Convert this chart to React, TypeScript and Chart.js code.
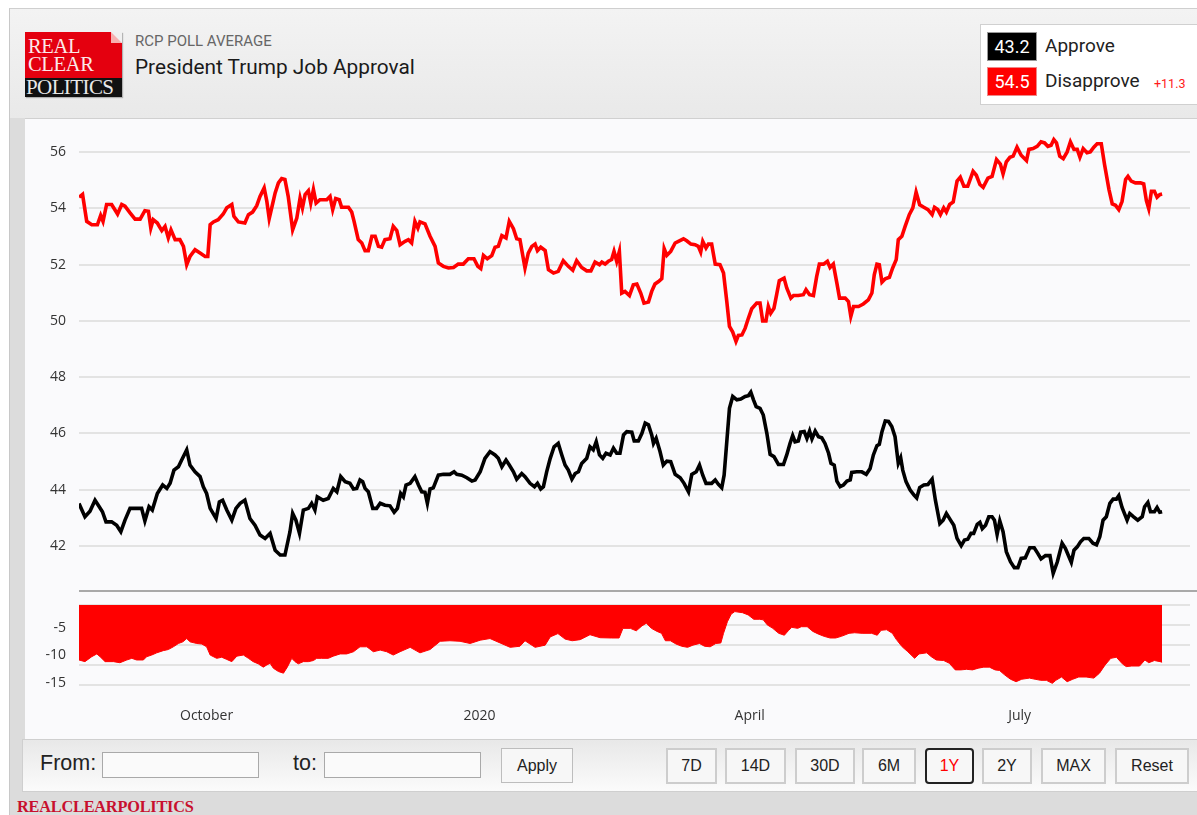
import React, { useEffect, useRef } from 'react';
import { Chart, registerables } from 'chart.js';

Chart.register(...registerables);

// Day offsets are counted from Aug 19, 2019 (day 0) to Aug 18, 2020 (day 365)
const approveDays = [
  0, 2.0, 3.7, 5.4, 6.5, 7.9, 9.1, 11.0, 12.7, 14.1,
  15.5, 17.2, 19.4, 21.1, 22.2, 23.6, 24.7, 26.4, 28.2, 29.6,
  30.7, 32.0, 33.5, 34.6, 36.3, 37.4, 39.1, 40.8, 41.9, 43.0,
  44.2, 46.2, 47.3, 48.4, 49.8, 51.5, 52.9, 54.3, 55.9, 57.6,
  59.3, 61.0, 62.7, 64.4, 66.1, 67.8, 69.4, 71.1, 72.0, 73.1,
  74.3, 75.6, 77.3, 78.4, 79.5, 80.3, 82.3, 84.0, 85.7, 86.9,
  88.2, 89.7, 91.3, 92.5, 93.6, 94.7, 95.6, 96.4, 97.5, 99.0,
  100.3, 101.5, 103.1, 104.8, 106.2, 107.3, 108.4, 109.3, 110.2, 111.6,
  113.2, 114.4, 115.5, 116.6, 117.4, 118.3, 119.4, 121.1, 122.8, 125.0,
  126.4, 127.3, 129.0, 130.7, 132.4, 133.5, 135.2, 136.8, 138.5, 140.2,
  141.3, 142.5, 143.9, 145.0, 146.4, 147.5, 149.2, 150.3, 152.0, 153.5,
  154.5, 155.6, 156.5, 157.6, 158.8, 160.1, 161.5, 162.7, 163.8, 164.9,
  166.1, 167.2, 168.3, 169.4, 171.1, 172.2, 173.3, 174.3, 175.4, 176.5,
  177.6, 179.0, 180.1, 181.2, 182.3, 183.5, 184.6, 186.3, 187.1, 188.5,
  189.7, 190.8, 191.9, 193.0, 193.6, 194.5, 195.8, 196.9, 198.1, 199.4,
  200.9, 202.6, 203.9, 205.4, 206.5, 208.0, 209.1, 210.2, 211.3, 213.2,
  214.4, 215.5, 216.6, 217.4, 218.3, 219.2, 220.3, 221.7, 223.0, 224.5,
  225.6, 226.4, 227.3, 228.2, 229.5, 230.6, 231.8, 232.9, 234.2, 235.7,
  237.4, 238.5, 239.6, 240.5, 241.3, 242.4, 243.2, 244.4, 245.3, 246.2,
  247.0, 248.1, 249.2, 250.3, 251.4, 252.6, 253.4, 254.5, 255.4, 256.5,
  257.6, 258.8, 259.9, 260.4, 262.1, 263.8, 265.3, 266.6, 267.7, 268.9,
  269.7, 270.6, 271.7, 272.8, 273.9, 275.0, 276.1, 276.9, 277.6, 278.7,
  280.1, 281.4, 282.3, 283.3, 284.7, 286.1, 287.5, 288.6, 290.1, 291.2,
  292.3, 293.7, 294.8, 295.9, 297.3, 298.4, 299.5, 300.6, 301.5, 302.7,
  303.6, 304.4, 305.5, 306.6, 307.7, 308.5, 309.4, 310.3, 311.4, 312.5,
  313.9, 315.2, 316.4, 317.5, 318.9, 320.4, 321.9, 323.1, 324.2, 325.7,
  327.2, 328.3, 329.7, 331.3, 332.4, 333.6, 334.4, 335.3, 336.4, 337.5,
  338.6, 340.3, 341.7, 342.9, 344.0, 345.1, 346.2, 347.4, 348.5, 349.6,
  350.4, 351.5, 353.2, 354.1, 355.4, 356.8, 358.3, 359.1, 360.2, 361.1,
  362.4, 363.3, 364.2, 365.0,
];
const approveValues = [
  43.5, 43.03, 43.23, 43.62, 43.44, 43.21, 42.85, 42.85, 42.73, 42.5,
  42.91, 43.33, 43.33, 43.33, 42.88, 43.39, 43.27, 43.86, 44.16, 44.04,
  44.22, 44.69, 44.81, 45.05, 45.41, 44.87, 44.63, 44.46, 44.1, 43.86,
  43.33, 42.97, 43.56, 43.62, 43.27, 42.91, 43.33, 43.51, 43.62, 42.97,
  42.73, 42.38, 42.26, 42.44, 41.84, 41.67, 41.67, 42.5, 43.15, 42.91,
  42.44, 43.27, 43.33, 43.51, 43.27, 43.74, 43.62, 43.68, 44.04, 43.92,
  44.46, 44.28, 44.22, 44.02, 44.04, 44.34, 44.28, 44.04, 43.92, 43.33,
  43.33, 43.51, 43.44, 43.42, 43.19, 43.33, 43.86, 43.74, 44.16, 44.22,
  44.46, 44.16, 43.92, 43.9, 43.51, 44.02, 44.06, 44.51, 44.54, 44.54,
  44.63, 44.54, 44.51, 44.42, 44.3, 44.34, 44.63, 45.11, 45.35, 45.23,
  45.11, 44.81, 45.05, 44.87, 44.63, 44.37, 44.57, 44.46, 44.22, 44.1,
  44.22, 44.02, 44.1, 44.63, 45.11, 45.52, 45.64, 45.23, 44.87, 44.69,
  44.37, 44.57, 44.63, 44.93, 45.11, 45.52, 45.41, 45.7, 45.23, 45.11,
  45.29, 45.23, 45.47, 45.29, 45.29, 45.94, 46.06, 46.04, 45.73, 45.73,
  46.0, 46.36, 46.3, 45.94, 45.64, 45.82, 45.35, 44.87, 45.01, 44.99,
  44.54, 44.42, 44.22, 43.92, 44.54, 44.63, 44.87, 44.51, 44.22, 44.22,
  44.34, 44.18, 44.06, 44.51, 45.7, 46.89, 47.31, 47.19, 47.22, 47.31,
  47.34, 47.46, 47.19, 46.95, 46.89, 46.65, 46.0, 45.25, 45.17, 44.89,
  44.89, 45.23, 45.64, 45.92, 45.7, 45.73, 46.04, 46.06, 45.82, 46.08,
  45.8, 46.08, 45.88, 45.84, 45.64, 45.29, 44.93, 44.87, 44.3, 44.1,
  44.16, 44.3, 44.34, 44.61, 44.63, 44.63, 44.54, 44.75, 45.23, 45.56,
  45.61, 46.06, 46.44, 46.42, 46.24, 45.88, 44.93, 45.13, 44.69, 44.28,
  43.98, 43.8, 43.7, 44.07, 44.16, 44.18, 44.37, 43.62, 42.79, 42.91,
  43.15, 42.91, 42.73, 42.26, 42.0, 42.2, 42.23, 42.44, 42.44, 42.76,
  42.83, 42.61, 42.73, 43.03, 43.03, 42.91, 42.4, 42.88, 42.5, 41.79,
  41.43, 41.22, 41.22, 41.55, 41.57, 41.93, 41.93, 41.73, 41.53, 41.65,
  41.65, 41.02, 41.43, 42.09, 41.91, 41.61, 41.41, 41.84, 41.96, 42.14,
  42.26, 42.26, 42.09, 42.03, 42.32, 42.91, 43.03, 43.51, 43.66, 43.66,
  43.78, 43.36, 42.91, 43.15, 43.03, 42.91, 43.03, 43.39, 43.54, 43.21,
  43.21, 43.36, 43.19, 43.21,
];

const disapproveDays = [
  0, 1.2, 2.6, 4.3, 6.2, 7.3, 8.1, 9.3, 11.0, 13.0,
  14.4, 15.5, 17.2, 18.9, 20.6, 22.2, 23.4, 24.2, 25.0, 26.4,
  27.9, 29.0, 30.1, 31.0, 32.4, 34.0, 35.2, 36.3, 37.4, 39.1,
  40.8, 42.5, 43.4, 44.2, 45.3, 46.9, 48.6, 49.8, 51.5, 52.2,
  53.7, 55.9, 57.1, 58.5, 59.9, 61.0, 62.4, 63.3, 64.1, 65.2,
  66.1, 67.2, 68.3, 69.4, 70.5, 72.0, 73.4, 74.5, 75.3, 76.2,
  77.3, 78.1, 79.0, 79.9, 81.2, 83.5, 84.6, 85.5, 86.5, 87.7,
  88.5, 90.8, 91.9, 92.7, 94.1, 95.3, 96.4, 97.5, 98.7, 99.8,
  100.9, 102.0, 103.1, 104.8, 105.9, 107.1, 108.2, 109.9, 111.0, 112.1,
  113.2, 114.2, 114.9, 116.6, 118.3, 120.0, 121.1, 122.8, 124.5, 126.2,
  127.8, 129.5, 131.2, 133.1, 134.4, 135.4, 136.3, 137.6, 139.1, 140.2,
  141.3, 142.5, 143.9, 145.0, 146.4, 147.5, 148.6, 150.3, 151.4, 152.6,
  153.7, 154.5, 155.6, 157.1, 158.2, 159.9, 161.5, 163.2, 164.9, 166.4,
  167.7, 169.4, 171.1, 172.5, 173.9, 175.4, 176.2, 177.3, 178.4, 179.5,
  180.3, 181.2, 182.1, 182.9, 184.0, 185.5, 186.8, 188.0, 189.3, 190.4,
  191.9, 193.0, 194.1, 195.3, 196.4, 197.2, 198.1, 199.4, 200.9, 202.0,
  203.7, 204.8, 206.2, 207.6, 208.7, 209.5, 210.2, 211.3, 212.1, 213.2,
  214.4, 216.0, 217.2, 218.3, 219.2, 220.3, 221.4, 222.2, 223.4, 224.5,
  225.6, 226.7, 228.4, 229.5, 230.4, 231.5, 232.3, 233.1, 234.2, 235.1,
  236.0, 237.6, 238.5, 239.9, 240.8, 242.4, 244.1, 245.0, 246.2, 247.5,
  248.6, 249.5, 250.9, 252.2, 253.1, 254.2, 255.4, 256.3, 258.2, 259.3,
  260.1, 261.0, 262.7, 264.3, 266.0, 267.2, 268.0, 268.9, 269.7, 270.6,
  271.7, 273.1, 274.2, 275.4, 276.1, 277.3, 278.4, 279.8, 281.0, 282.1,
  283.3, 284.7, 286.1, 287.5, 288.3, 289.4, 290.3, 291.4, 292.3, 293.4,
  294.6, 295.9, 297.0, 298.2, 299.5, 301.3, 302.4, 303.6, 304.7, 306.3,
  307.7, 309.2, 310.5, 311.4, 312.5, 313.7, 314.8, 316.1, 317.5, 319.3,
  320.1, 321.5, 322.9, 324.2, 325.4, 326.5, 327.6, 328.5, 329.4, 330.5,
  331.7, 333.0, 334.1, 335.3, 336.4, 337.3, 338.4, 339.7, 340.8, 342.0,
  343.1, 344.5, 345.6, 347.1, 348.2, 349.3, 350.4, 351.5, 352.7, 353.5,
  354.6, 356.0, 357.7, 358.8, 359.7, 360.5, 361.4, 362.4, 363.3, 364.2,
  365.0,
];
const disapproveValues = [
  54.4, 54.5, 53.54, 53.42, 53.42, 53.75, 53.54, 54.14, 54.14, 53.8,
  54.14, 54.08, 53.84, 53.62, 53.62, 53.92, 53.9, 53.3, 53.6, 53.48,
  53.21, 53.36, 52.95, 53.24, 52.89, 52.89, 52.65, 52.0, 52.29, 52.53,
  52.41, 52.29, 52.29, 53.42, 53.52, 53.6, 53.8, 54.02, 54.14, 53.72,
  53.52, 53.48, 53.78, 53.87, 54.1, 54.43, 54.73, 54.25, 53.64, 54.14,
  54.55, 54.91, 55.06, 55.03, 54.43, 53.24, 53.66, 54.37, 54.02, 54.49,
  54.63, 54.19, 54.67, 54.19, 54.31, 54.31, 54.43, 53.96, 54.35, 54.31,
  54.04, 54.04, 53.87, 53.54, 52.89, 52.77, 52.5, 52.5, 53.01, 53.01,
  52.65, 52.62, 52.89, 52.92, 53.36, 53.21, 52.71, 52.83, 52.89, 52.77,
  53.54, 53.3, 53.52, 53.45, 53.01, 52.65, 52.06, 51.94, 51.88, 51.9,
  52.02, 52.02, 52.21, 52.21, 51.94, 51.86, 52.33, 52.21, 52.32, 52.62,
  52.65, 53.03, 52.95, 53.54, 53.28, 52.92, 52.89, 51.88, 52.41, 52.65,
  52.73, 52.5, 52.62, 52.5, 51.82, 51.7, 51.76, 52.14, 51.94, 51.8,
  52.14, 51.9, 51.78, 51.78, 52.09, 52.0, 52.09, 52.02, 52.12, 52.18,
  52.47, 52.12, 52.47, 50.99, 51.05, 50.9, 51.28, 51.31, 50.99, 50.63,
  50.67, 51.05, 51.31, 51.4, 51.5, 52.57, 52.33, 52.47, 52.77, 52.83,
  52.92, 52.85, 52.73, 52.71, 52.65, 52.45, 52.83, 52.59, 52.73, 52.73,
  52.02, 52.0, 51.7, 50.69, 49.8, 49.6, 49.27, 49.48, 49.5, 49.74,
  50.1, 50.43, 50.63, 50.63, 50.0, 50.0, 50.51, 50.27, 50.45, 50.93,
  51.43, 51.52, 51.17, 50.81, 50.9, 50.9, 50.93, 51.11, 50.93, 50.9,
  51.58, 52.02, 52.02, 52.12, 51.9, 52.02, 51.34, 50.81, 50.81, 50.69,
  50.16, 50.51, 50.51, 50.6, 50.75, 50.99, 51.64, 52.02, 52.0, 51.38,
  51.5, 51.55, 51.88, 52.18, 52.89, 53.01, 53.36, 53.78, 54.02, 54.58,
  54.13, 54.04, 53.96, 53.78, 54.04, 53.96, 53.78, 54.02, 53.87, 54.14,
  54.23, 54.97, 55.11, 54.79, 54.79, 55.32, 55.18, 54.85, 54.75, 55.08,
  55.14, 55.74, 55.58, 55.23, 55.66, 55.82, 55.86, 56.18, 55.89, 55.7,
  56.1, 56.13, 56.21, 56.37, 56.33, 56.21, 56.25, 56.45, 56.33, 55.86,
  55.77, 56.01, 56.37, 56.1, 56.1, 55.82, 56.13, 55.98, 56.01, 56.18,
  56.3, 56.3, 55.56, 54.67, 54.16, 54.11, 53.96, 54.25, 55.03, 55.14,
  54.97, 54.91, 54.91, 54.87, 54.28, 53.99, 54.61, 54.61, 54.4, 54.49,
  54.51,
];

const spreadDays = [
  0, 2.0, 4.3, 6.0, 7.1, 8.8, 11.6, 13.8, 16.1, 17.8,
  19.4, 21.7, 22.8, 24.5, 26.2, 28.4, 30.1, 31.8, 33.5, 35.0,
  36.3, 37.4, 39.7, 41.4, 43.0, 44.2, 46.4, 48.1, 49.8, 51.5,
  53.2, 55.4, 57.1, 58.7, 60.4, 62.1, 63.3, 64.4, 65.5, 67.2,
  68.9, 70.2, 71.7, 72.8, 73.9, 75.6, 77.3, 79.0, 80.1, 81.8,
  84.0, 85.7, 88.0, 90.2, 92.5, 94.7, 97.0, 99.2, 101.5, 103.7,
  105.9, 108.2, 111.6, 114.9, 118.3, 121.7, 125.0, 128.4, 131.8, 135.2,
  138.5, 141.9, 145.3, 148.6, 150.3, 153.7, 157.1, 158.8, 161.4, 163.8,
  166.2, 168.9, 172.2, 175.6, 179.4, 182.0, 183.3, 185.8, 187.8, 189.7,
  191.2, 192.9, 194.8, 196.3, 197.6, 199.3, 201.2, 203.1, 205.1, 206.9,
  209.1, 210.8, 212.7, 214.6, 216.3, 217.2, 218.5, 219.8, 221.0, 223.6,
  225.5, 227.4, 229.4, 230.6, 231.9, 233.8, 235.8, 237.7, 239.0, 240.2,
  242.2, 243.4, 245.4, 247.3, 249.2, 251.1, 253.1, 255.0, 256.9, 259.5,
  261.4, 263.9, 267.1, 269.0, 270.3, 272.2, 274.1, 275.4, 277.4, 279.3,
  281.6, 283.1, 285.7, 287.2, 288.9, 291.4, 293.3, 295.3, 297.2, 299.1,
  301.1, 303.0, 304.9, 306.8, 308.7, 310.2, 311.9, 313.9, 315.8, 317.7,
  320.3, 322.2, 324.1, 326.0, 328.0, 329.2, 331.1, 333.0, 334.9, 336.9,
  339.4, 342.0, 343.9, 345.8, 347.7, 349.6, 351.6, 352.9, 354.8, 357.4,
  359.2, 360.5, 362.4, 364.3, 365.0,
];
const spreadValues = [
  -10.9, -11.2, -10.3, -9.8, -10.3, -11.2, -11.2, -11.4, -10.9, -10.6,
  -10.9, -10.9, -10.3, -10.0, -9.6, -9.2, -9.0, -8.5, -7.9, -7.6,
  -7.0, -7.6, -7.9, -8.0, -8.5, -10.0, -10.6, -10.4, -10.8, -11.2,
  -10.2, -10.0, -10.6, -11.2, -11.6, -12.2, -11.8, -11.5, -12.4, -13.0,
  -13.3, -12.2, -10.6, -11.2, -11.6, -11.2, -11.2, -11.0, -10.6, -10.6,
  -10.6, -10.2, -9.8, -9.8, -9.4, -8.5, -8.5, -9.4, -9.1, -9.4,
  -10.0, -9.4, -8.6, -9.6, -9.0, -7.5, -7.4, -7.5, -7.9, -7.3,
  -7.0, -7.8, -8.6, -8.4, -7.4, -8.6, -8.2, -6.7, -6.1, -7.1,
  -7.4, -7.2, -6.3, -6.85, -6.9, -6.9, -5.15, -5.15, -5.6, -4.7,
  -4.2, -5.15, -5.7, -6.05, -7.4, -7.4, -8.0, -8.4, -8.6, -8.2,
  -7.9, -8.4, -8.5, -7.9, -7.8, -6.05, -3.95, -2.55, -2.1, -2.3,
  -2.7, -3.5, -3.5, -3.6, -4.5, -5.15, -6.05, -6.4, -5.6, -4.96,
  -5.15, -4.85, -4.85, -5.7, -6.2, -6.6, -6.9, -6.9, -6.6, -6.05,
  -5.95, -6.05, -6.05, -6.4, -5.5, -5.4, -6.05, -7.15, -8.5, -9.4,
  -10.6, -9.8, -9.6, -10.3, -10.9, -11.0, -11.5, -12.7, -12.7, -12.6,
  -12.7, -12.4, -12.2, -12.2, -12.7, -12.8, -13.6, -14.4, -14.85, -14.4,
  -14.2, -14.4, -14.6, -14.6, -15.15, -14.6, -14.0, -14.85, -14.4, -14.0,
  -14.0, -14.2, -13.3, -11.8, -10.6, -10.4, -11.6, -12.1, -12.0, -12.0,
  -10.9, -11.4, -11.0, -11.2, -11.3,
];

const tickDays = [43, 135, 226, 317];
const tickLabels = ['October', '2020', 'April', 'July'];
const mainTicks = [42, 44, 46, 48, 50, 52, 54, 56];
const spreadTicks = [-5, -10, -15];
const spreadGrid = [0, -5, -10, -15, -20];
const rangeButtons = ['7D', '14D', '30D', '6M', '1Y', '2Y', 'MAX', 'Reset'];

const X_MAX = 374.4;
const TICK_FONT = { family: '"Open Sans", "DejaVu Sans", sans-serif', size: 14 };

function pts(days: number[], vals: number[]) {
  return days.map((d, i) => ({ x: d, y: vals[i] }));
}

const fixY = (w: number) => (s: any) => {
  s.width = w;
  s.paddingTop = 0;
  s.paddingBottom = 0;
  s.paddingLeft = 0;
  s.paddingRight = 0;
};

function MainChart() {
  const ref = useRef<HTMLCanvasElement>(null);
  useEffect(() => {
    if (!ref.current) return;
    const chart = new Chart(ref.current, {
      type: 'line',
      data: {
        datasets: [
          {
            label: 'Disapprove',
            data: pts(disapproveDays, disapproveValues),
            borderColor: '#ff0000',
            borderWidth: 3.6,
            pointRadius: 0,
            tension: 0,
            fill: false,
          },
          {
            label: 'Approve',
            data: pts(approveDays, approveValues),
            borderColor: '#000000',
            borderWidth: 3.6,
            pointRadius: 0,
            tension: 0,
            fill: false,
          },
        ],
      },
      options: {
        animation: false,
        responsive: false,
        maintainAspectRatio: false,
        layout: { padding: { top: 10, right: 7, left: 0, bottom: 0 } },
        plugins: { legend: { display: false }, tooltip: { enabled: false } },
        scales: {
          x: { type: 'linear', min: 0, max: X_MAX, display: false },
          y: {
            min: 40.39,
            max: 56.79,
            afterBuildTicks: (s: any) => {
              s.ticks = mainTicks.map((v) => ({ value: v }));
            },
            afterFit: fixY(54),
            grid: { color: '#e3e3e3', lineWidth: 2, drawTicks: false },
            border: { display: false },
            ticks: { padding: 13, color: '#333', font: TICK_FONT },
          },
        },
      },
    });
    return () => chart.destroy();
  }, []);
  return (
    <canvas
      ref={ref}
      width={1172}
      height={471}
      style={{ position: 'absolute', left: 25, top: 120, width: 1172, height: 471 }}
    />
  );
}

function SpreadChart() {
  const ref = useRef<HTMLCanvasElement>(null);
  useEffect(() => {
    if (!ref.current) return;
    const chart = new Chart(ref.current, {
      type: 'line',
      data: {
        datasets: [
          {
            label: 'Spread',
            data: pts(spreadDays, spreadValues),
            borderColor: '#ff0000',
            backgroundColor: '#ff0000',
            borderWidth: 1,
            pointRadius: 0,
            tension: 0,
            fill: 'end',
            yAxisID: 'y',
          },
        ],
      },
      options: {
        animation: false,
        responsive: false,
        maintainAspectRatio: false,
        layout: { padding: { top: 10, right: 7, left: 0, bottom: 0 } },
        plugins: { legend: { display: false }, tooltip: { enabled: false } },
        scales: {
          x: {
            type: 'linear',
            min: 0,
            max: X_MAX,
            position: 'bottom',
            afterBuildTicks: (s: any) => {
              s.ticks = tickDays.map((v) => ({ value: v }));
            },
            afterFit: (s: any) => {
              s.height = 48;
              s.paddingLeft = 0;
              s.paddingRight = 0;
              s.paddingTop = 0;
              s.paddingBottom = 0;
            },
            grid: { display: false, drawTicks: false },
            border: { display: false },
            ticks: {
              padding: 18,
              color: '#333',
              font: TICK_FONT,
              maxRotation: 0,
              autoSkip: false,
              callback: (v: any) => {
                const i = tickDays.indexOf(Number(v));
                return i >= 0 ? tickLabels[i] : '';
              },
            },
          },
          yg: {
            position: 'left',
            min: -21.25,
            max: 0,
            afterBuildTicks: (s: any) => {
              s.ticks = spreadGrid.map((v) => ({ value: v }));
            },
            afterFit: fixY(0),
            grid: { color: '#e3e3e3', lineWidth: 2, drawTicks: false },
            border: { display: false },
            ticks: { display: false },
          },
          y: {
            position: 'left',
            min: -16.36,
            max: -0.9,
            afterBuildTicks: (s: any) => {
              s.ticks = spreadTicks.map((v) => ({ value: v }));
            },
            afterFit: fixY(54),
            grid: { display: false, drawTicks: false },
            border: { display: false },
            ticks: { padding: 13, color: '#333', font: TICK_FONT },
          },
        },
      },
    });
    return () => chart.destroy();
  }, []);
  return (
    <canvas
      ref={ref}
      width={1172}
      height={143}
      style={{ position: 'absolute', left: 25, top: 595, width: 1172, height: 143 }}
    />
  );
}

const abs = (s: React.CSSProperties): React.CSSProperties => ({ position: 'absolute', ...s });

const btnLefts = [666, 725, 795, 862, 925, 982, 1041, 1115];
const btnWidths = [51, 61, 60, 54, 49, 50, 65, 74];

export default function App() {
  const roboto = 'Roboto, "Noto Sans", sans-serif';
  const arial = '"Liberation Sans", Arial, sans-serif';
  return (
    <div
      style={{
        position: 'fixed',
        left: 0,
        top: 0,
        width: 1197,
        height: 815,
        overflow: 'hidden',
        background: '#ffffff',
        fontFamily: roboto,
      }}
    >
      <div style={abs({ left: 9, top: 8, width: 1200, height: 820, background: '#dcdcdc', borderLeft: '1px solid #c8c8c8', borderTop: '1px solid #cfcfcf' })} />
      <div style={abs({ left: 10, top: 9, width: 1200, height: 109, background: 'linear-gradient(#f3f3f3, #e9e9e9)' })} />
      <div style={abs({ left: 25, top: 32, width: 97, height: 65, overflow: 'hidden', boxShadow: '1px 1px 1px rgba(0,0,0,0.25)' })}>
        <div style={abs({ left: 0, top: 0, width: 97, height: 46, background: '#e4000f' })} />
        <div style={abs({ left: 0, top: 46, width: 97, height: 19, background: '#111' })} />
        <div style={abs({ right: 0, top: 0, width: 0, height: 0, borderTop: '11px solid #f0f0f0', borderLeft: '11px solid #f7b0b0' })} />
        <div style={abs({ left: 3, top: 5, fontFamily: '"Liberation Serif", "DejaVu Serif", serif', fontSize: 20.5, lineHeight: '18px', color: '#fbe9e9', letterSpacing: -0.3 })}>
          REAL
          <br />
          CLEAR
        </div>
        <div style={abs({ left: 1, top: 44, fontFamily: '"Liberation Serif", "DejaVu Serif", serif', fontSize: 21, lineHeight: '22px', color: '#e8e8e8', letterSpacing: -0.6 })}>
          POLITICS
        </div>
      </div>
      <div style={abs({ left: 135, top: 32, fontSize: 15, color: '#666', fontFamily: roboto })}>RCP POLL AVERAGE</div>
      <div style={abs({ left: 135, top: 55, fontSize: 20.8, color: '#1a1a1a', fontFamily: roboto })}>President Trump Job Approval</div>

      <div style={abs({ left: 980, top: 24, width: 240, height: 79, background: '#fff', border: '1px solid #d0d0d0' })} />
      <div style={abs({ left: 987, top: 32, width: 50, height: 29, background: '#000', border: '1px solid #999', color: '#fff', fontSize: 18, lineHeight: '27px', textAlign: 'center', boxSizing: 'border-box' })}>43.2</div>
      <div style={abs({ left: 1045, top: 33, fontSize: 19, color: '#222', lineHeight: '26px' })}>Approve</div>
      <div style={abs({ left: 987, top: 67, width: 50, height: 29, background: '#ff0000', border: '1px solid #e88', color: '#fff', fontSize: 18, lineHeight: '27px', textAlign: 'center', boxSizing: 'border-box' })}>54.5</div>
      <div style={abs({ left: 1045, top: 68, fontSize: 19, color: '#222', lineHeight: '26px' })}>Disapprove</div>
      <div style={abs({ left: 1154, top: 76, fontSize: 12.5, color: '#ff1a1a', lineHeight: '16px' })}>+11.3</div>

      <div style={abs({ left: 25, top: 118, width: 1180, height: 621, background: '#fafafc', borderTop: '1px solid #d0d0d0' })} />
      <MainChart />
      <div style={abs({ left: 79, top: 590, width: 1120, height: 2, background: '#a9a9a9' })} />
      <SpreadChart />

      <div style={abs({ left: 22, top: 739, width: 1190, height: 53, background: 'linear-gradient(#e8e8e8, #fbfbfb)', border: '1px solid #cfcfcf', boxSizing: 'border-box' })} />
      <div style={abs({ left: 40, top: 751, fontSize: 21.5, color: '#222', fontFamily: arial })}>From:</div>
      <div style={abs({ left: 102, top: 752, width: 157, height: 26, background: '#fafafa', border: '1px solid #a9a9a9', boxSizing: 'border-box' })} />
      <div style={abs({ left: 293, top: 751, fontSize: 21.5, color: '#222', fontFamily: arial })}>to:</div>
      <div style={abs({ left: 324, top: 752, width: 157, height: 26, background: '#fafafa', border: '1px solid #a9a9a9', boxSizing: 'border-box' })} />
      <div style={abs({ left: 501, top: 748, width: 72, height: 35, background: '#f7f7f7', border: '1px solid #bdbdbd', boxSizing: 'border-box', fontSize: 16, lineHeight: '33px', textAlign: 'center', color: '#222', fontFamily: arial })}>Apply</div>
      {rangeButtons.map((b, i) => (
        <div
          key={b}
          style={abs({
            left: btnLefts[i],
            top: 748,
            width: btnWidths[i],
            height: 36,
            background: '#f7f7f7',
            border: b === '1Y' ? '2px solid #222' : '2px solid #cdcdcd',
            borderRadius: b === '1Y' ? 4 : 0,
            boxSizing: 'border-box',
            fontSize: 16,
            lineHeight: '32px',
            textAlign: 'center',
            color: b === '1Y' ? '#ff0000' : '#222',
            fontFamily: arial,
          })}
        >
          {b}
        </div>
      ))}

      <div style={abs({ left: 17, top: 797, fontSize: 16.3, color: '#c8102e', fontFamily: '"Liberation Serif", "DejaVu Serif", serif', fontWeight: 'bold', letterSpacing: -0.2 })}>
        REALCLEARPOLITICS
      </div>
    </div>
  );
}
